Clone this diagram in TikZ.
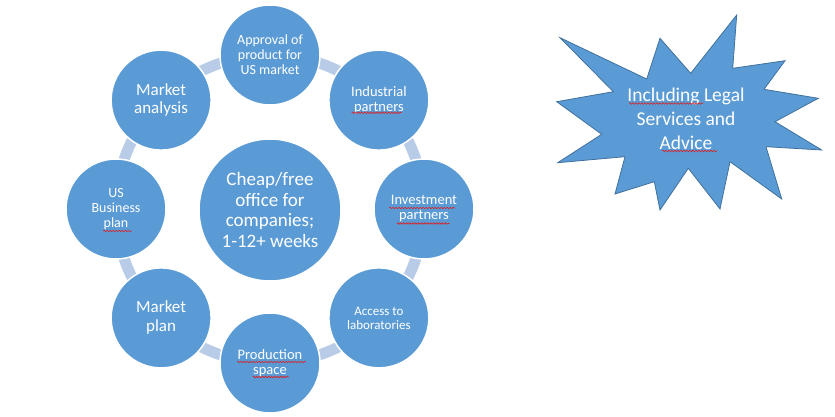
\documentclass[tikz,border=0pt]{standalone}
\usepackage{fontspec}
\setmainfont{Carlito}
\usetikzlibrary{decorations.pathmorphing}
\definecolor{blobfill}{RGB}{91,155,213}
\definecolor{ringc}{RGB}{184,203,231}
\definecolor{starline}{RGB}{65,113,156}
\definecolor{squigc}{RGB}{220,30,30}
\tikzset{
  bub/.style={circle, fill=blobfill, draw=white, line width=1.5pt, inner sep=0pt,
    minimum size=100pt, text=white, align=center},
  hub/.style={bub, minimum size=142pt},
  squig/.style={draw=squigc, line width=0.6pt, decorate,
    decoration={snake, amplitude=0.8pt, segment length=3pt}},
  ringline/.style={draw=ringc, line width=11pt},
  fs/.style 2 args={font={\fontsize{#1}{#2}\selectfont}},
}
\begin{document}
\begin{tikzpicture}[x=1pt,y=-1pt]
\useasboundingbox (0,0) rectangle (835,417);
\coordinate (c) at (270,209);
\draw[ringline] (c) circle[radius=154pt];
\node[hub, fs={19}{20.5}] (center) at (270,210) {Cheap/free\\office for\\companies;\\1-12+ weeks};
\node[bub, fs={14}{15}] (approval) at (270,55) {Approval of\\product for\\US market};
\node[bub, fs={14.5}{15}] (industrial) at (378.9,100.1) {Industrial\\partners};
\node[bub, fs={14.5}{15}] (investment) at (424,209) {Investment\\partners};
\node[bub, fs={13}{14}] (access) at (378.9,317.9) {Access to\\laboratories};
\node[bub, fs={14.5}{15.5}] (production) at (270,363) {Production\\space};
\node[bub, fs={17}{19}] (marketplan) at (161.1,317.9) {Market\\plan};
\node[bub, fs={14}{15.3}] (usplan) at (116,209) {US\\Business\\plan};
\node[bub, fs={17}{18.5}] (analysis) at (161.1,100.1) {Market\\analysis};
% explosion shape
\draw[fill=blobfill, draw=starline, line width=0.8pt, line join=miter]
  (560,37.7) -- (646.7,79) -- (660,38.3) -- (690.7,73.3) -- (736.7,15) -- (732.7,68.3)
  -- (785,60.7) -- (764,89.3) -- (818.3,98.3) -- (775,121.7) -- (821.7,150) -- (766,146.7)
  -- (781.7,199) -- (730,161.7) -- (720,209) -- (688.3,168.3) -- (660,210) -- (654.3,181.7)
  -- (615,194) -- (625,156.7) -- (557.7,162.7) -- (601.7,134.3) -- (556.7,101.7) -- (613.3,91.7)
  -- cycle;
\node[text=white, align=center, inner sep=0pt, fs={19.5}{24}] (legal) at (686,119)
  {Including Legal\\Services and\\Advice};
% spell-check underlines
\draw[squig] (351.7,112.8) -- (401.7,112.8);
\draw[squig] (389.3,208) -- (455,208);
\draw[squig] (396.7,223.5) -- (449.3,223.5);
\draw[squig] (103.3,231) -- (131.7,231);
\draw[squig] (237.3,362) -- (306,362);
\draw[squig] (252.7,377) -- (289,377);
\draw[squig] (629,103.5) -- (703,103.5);
\draw[squig] (662,151) -- (717,151);
\end{tikzpicture}
\end{document}
